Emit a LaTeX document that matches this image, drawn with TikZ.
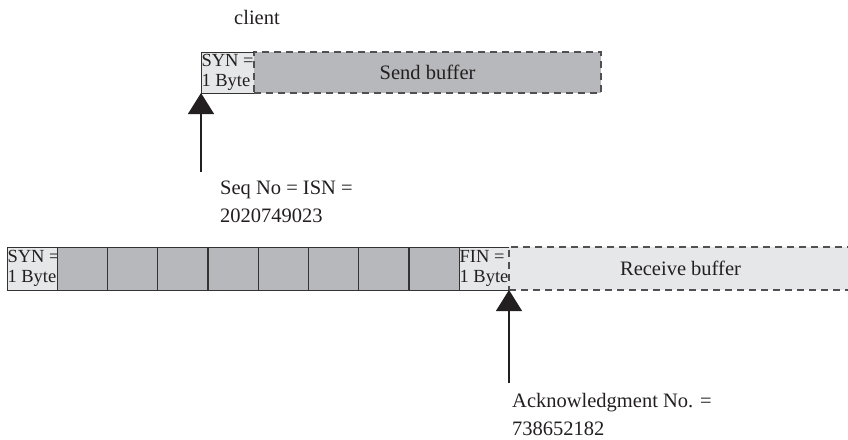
\documentclass[tikz,border=0pt]{standalone}
\usepackage{fontspec}
\setmainfont{Liberation Serif}
\usetikzlibrary{arrows.meta}
\definecolor{ink}{HTML}{231F20}
\definecolor{bufgray}{HTML}{B7B8BC}
\definecolor{lightbuf}{HTML}{E6E7E8}
\definecolor{dashcol}{HTML}{505052}
\definecolor{edgecol}{HTML}{333333}
\begin{document}
\begin{tikzpicture}[x=1pt,y=-1pt,
  lbl/.style={font=\fontsize{20.5}{28}\selectfont, text=ink, align=left, inner sep=0pt, anchor=north west},
  bytebox/.style={font=\fontsize{18.5}{20}\selectfont, text=ink, align=left, inner xsep=0.5pt, inner ysep=0pt,
    minimum width=50pt, outer sep=0pt, anchor=north west, fill=lightbuf},
  cellbox/.style={draw=edgecol, line width=1pt, fill=bufgray, minimum width=50pt, minimum height=43pt,
    inner sep=0pt, outer sep=0pt, anchor=north west},
  bufbox/.style={draw=dashcol, line width=1.4pt, dash pattern=on 7pt off 5pt, inner sep=0pt, outer sep=0pt,
    anchor=north west, font=\fontsize{20.5}{24}\selectfont, text=ink},
  solidedge/.style={draw=edgecol, line width=1pt},
  pointer/.style={draw=ink, line width=1.2pt, -{Triangle[width=26pt,length=21pt]}}
]
\useasboundingbox (0,0) rectangle (848,439);

% ---------- client (top) ----------
\node[font=\fontsize{20.5}{24}\selectfont, text=ink, inner sep=0pt] (client) at (257,17) {client};

\node[bytebox, minimum height=41pt] (syn1) at (201,52) {SYN =\\1 Byte};
\node[bufbox, fill=bufgray, minimum width=347pt, minimum height=41pt] (send) at (syn1.north east) {Send buffer};
\draw[solidedge] (syn1.north east) -- (syn1.north west) -- (syn1.south west) -- (syn1.south east);

\coordinate (seqfoot) at (201,172);
\draw[pointer] (seqfoot) -- (syn1.south west);
\node[lbl] (seq) at (220,181) {Seq No = ISN =\\2020749023};

% ---------- bottom row ----------
\node[bytebox, minimum height=43pt, draw=edgecol, line width=1pt] (syn2) at (7,247) {SYN =\\1 Byte};
\foreach \i in {1,...,8}{
  \node[cellbox] (c\i) at ({7+50.25*\i},247) {};
}
\node[bytebox, minimum height=43pt] (fin) at (c8.north east) {FIN =\\1 Byte};
\node[bufbox, fill=lightbuf, minimum width=343pt, minimum height=43pt] (recv) at (fin.north east) {Receive buffer};
\draw[solidedge] (fin.north east) -- (fin.north west) -- (fin.south west) -- (fin.south east);

\coordinate (ackfoot) at (fin.south east |- 0,383);
\draw[pointer] (ackfoot) -- (fin.south east);
\node[lbl] (ack) at (512,393) {Acknowledgment No. =\\738652182};
\end{tikzpicture}
\end{document}
